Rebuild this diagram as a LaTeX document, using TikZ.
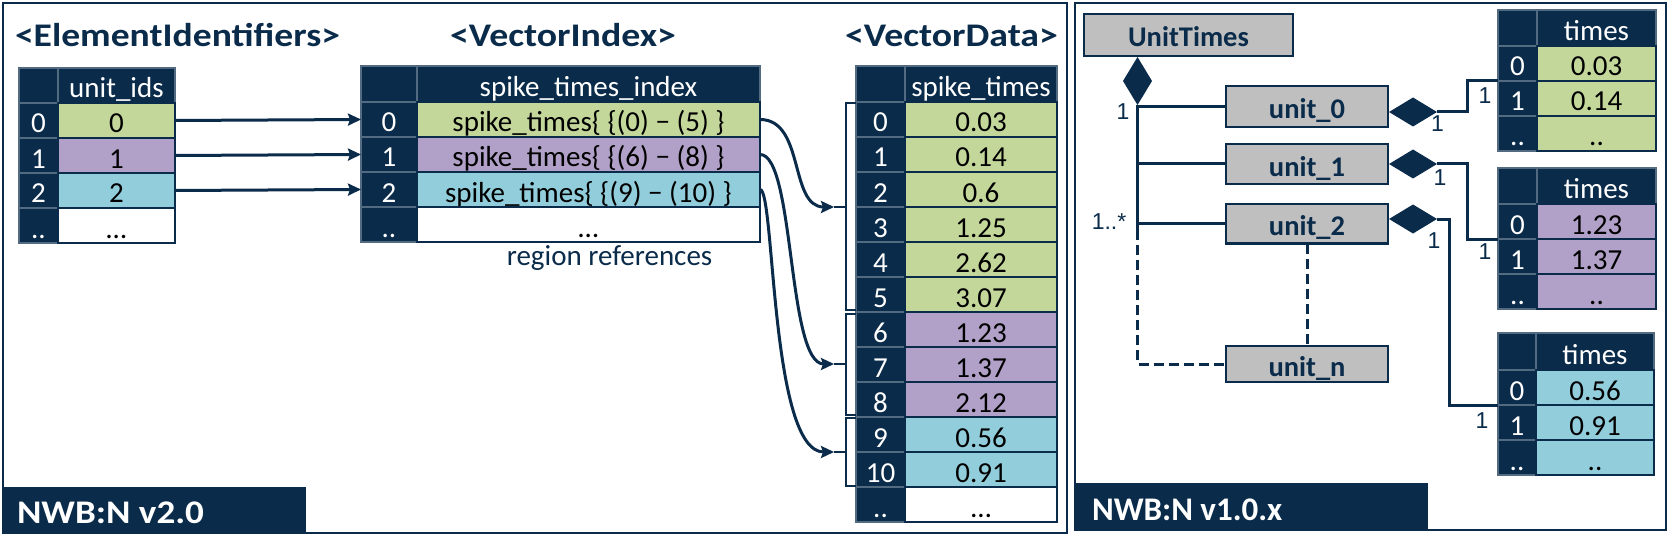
\documentclass[tikz,border=0pt]{standalone}
\usepackage{fontspec}
\setmainfont{Carlito}
\newfontfamily\arialf{Liberation Sans}
\usetikzlibrary{shapes.geometric,arrows.meta,calc}
\definecolor{navy}{HTML}{0A2B4A}
\definecolor{cgr}{HTML}{C4D79B}
\definecolor{cpu}{HTML}{B1A0C7}
\definecolor{cbl}{HTML}{92CDDC}
\definecolor{cgy}{HTML}{BFBFBF}
\tikzset{
  every node/.style={inner sep=0pt, outer sep=0pt},
  tcell/.style={rectangle, anchor=north west, text height=25pt, text depth=0pt,
    font=\fontsize{29}{34}\selectfont, minimum height=35pt, line width=1.6pt},
  icell/.style={tcell, fill=navy, draw=navy!70!white, text=white},
  vcell/.style={tcell, draw=navy, text=black},
  hcell/.style={tcell, fill=navy, draw=navy!70!white, text=white},
  ttl/.style={anchor=base, text=navy, font=\fontsize{33}{40}\selectfont\bfseries},
  lbltxt/.style={anchor=base west, text=white, font=\fontsize{33}{40}\selectfont\bfseries},
  lblbox/.style={fill=navy, anchor=south west},
  frame/.style={draw=navy, line width=2.8pt},
  ubox/.style={rectangle, anchor=north west, fill=cgy, draw=navy, line width=2.7pt,
    font=\fontsize{28.5}{34}\selectfont\bfseries, text=navy, text height=24pt, text depth=0pt},
  dia/.style={diamond, fill=navy, draw=none},
  conn/.style={draw=navy, line width=3pt},
  dsh/.style={dash pattern=on 10pt off 5pt},
  arr/.style={draw=navy, line width=3pt, -{Stealth[length=13pt,width=12pt,inset=2pt]}},
  brk/.style={draw=navy, line width=2.5pt},
  mult/.style={text=navy, font=\arialf\fontsize{23}{28}\selectfont},
}
\newcommand\mktable[8]{%
  \node[hcell, minimum width={#3-#2}, minimum height={#6}] (#1-hi) at (#2,#5) {};
  \node[hcell, minimum width={#4-#3}, minimum height={#6}] (#1-h) at (#3,#5) {#7};
  \foreach \ix/\vl/\cl [count=\n from 0] in {#8} {
    \node[icell, minimum width={#3-#2}] (#1-i\n) at (#2,{#5+#6+35*\n}) {\ix};
    \node[vcell, fill=\cl, minimum width={#4-#3}] (#1-v\n) at (#3,{#5+#6+35*\n}) {\vl};
  }%
}
\begin{document}
\begin{tikzpicture}[x=1pt,y=-1pt]
\useasboundingbox (0,0) rectangle (1669,540);
% frames
\draw[frame] (3,3) rectangle (1067,533);
\draw[frame] (1075,3) rectangle (1666,530);
\node[lblbox, minimum width=304pt, minimum height=46pt] (lb1) at (2,533) {};
\node[lbltxt] (lt1) at (17,523) {\resizebox{187pt}{\height}{NWB:N v2.0}};
\node[lblbox, minimum width=353pt, minimum height=47pt] (lb2) at (1075,530) {};
\node[lbltxt] (lt2) at (1092,520) {NWB:N v1.0.x};
% titles
\node[ttl] (t1) at (177.5,47) {\resizebox{325pt}{\height}{<ElementIdentifiers>}};
\node[ttl] (t2) at (563,47) {\resizebox{226pt}{\height}{<VectorIndex>}};
\node[ttl] (t3) at (951.5,47) {\resizebox{213pt}{\height}{<VectorData>}};
% left tables
\mktable{A}{19}{58}{175}{68}{35}{unit\_ids}{0/0/cgr, 1/1/cpu, 2/2/cbl, ../\dots/white}
\mktable{B}{361}{417}{760}{66}{36}{spike\_times\_index}{0/spike\_times\{ \{(0) − (5) \}/cgr, 1/spike\_times\{ \{(6) − (8) \}/cpu, 2/spike\_times\{ \{(9) − (10) \}/cbl, ../\dots/white}
\mktable{C}{856}{905}{1057}{66}{36}{spike\_times}{0/0.03/cgr, 1/0.14/cgr, 2/0.6/cgr, 3/1.25/cgr, 4/2.62/cgr, 5/3.07/cgr, 6/1.23/cpu, 7/1.37/cpu, 8/2.12/cpu, 9/0.56/cbl, 10/0.91/cbl, ../\dots/white}
\node[anchor=base, text=navy, font=\fontsize{29}{34}\selectfont] (rr) at (609.5,265) {region references};
% arrows ElementIdentifiers -> VectorIndex
\draw[arr] (A-v0.east) -- (B-i0.west);
\draw[arr] (A-v1.east) -- (B-i1.west);
\draw[arr] (A-v2.east) -- (B-i2.west);
% brackets
\coordinate (c1) at (834,207);
\coordinate (c2) at (834,364);
\coordinate (c3) at (834,452);
\draw[brk] (856,103) -- (846,103) -- (846,310) -- (856,310);
\draw[brk] (846,207) -- (c1);
\draw[brk] (856,314) -- (846,314) -- (846,415) -- (856,415);
\draw[brk] (846,364) -- (c2);
\draw[brk] (856,418) -- (846,418) -- (846,486) -- (856,486);
\draw[brk] (846,452) -- (c3);
% curves
\draw[arr] (B-v0.east) .. controls +(45,0) and +(-45,0) .. (c1);
\draw[arr] (B-v1.east) .. controls +(35,0) and +(-47,0) .. (c2);
\draw[arr] (B-v2.east) .. controls +(15,0) and +(-64,0) .. (c3);
% right panel
\mktable{TA}{1498}{1537}{1656}{10}{36}{times}{0/0.03/cgr, 1/0.14/cgr, ../../cgr}
\mktable{TB}{1498}{1537}{1656}{168}{36}{times}{0/1.23/cpu, 1/1.37/cpu, ../../cpu}
\mktable{TC}{1498}{1536}{1654}{333}{37}{times}{0/0.56/cbl, 1/0.91/cbl, ../../cbl}
\node[ubox, minimum width=209pt, minimum height=42pt] (UT) at (1084,14) {UnitTimes};
\node[ubox, minimum width=162pt, minimum height=41pt] (u0) at (1226,86) {unit\_0};
\node[ubox, minimum width=162pt, minimum height=40pt] (u1) at (1226,144) {unit\_1};
\node[ubox, minimum width=162pt, minimum height=39.5pt] (u2) at (1226,204) {unit\_2};
\node[ubox, minimum width=162pt, minimum height=36pt] (un) at (1226,346) {unit\_n};
\node[dia, minimum width=29pt, minimum height=48pt, anchor=north] (dUT) at (1137.5,57) {};
\node[dia, minimum width=48pt, minimum height=29pt, anchor=west] (d0) at (1389,112) {};
\node[dia, minimum width=48pt, minimum height=29pt, anchor=west] (d1) at (1389,164) {};
\node[dia, minimum width=48pt, minimum height=29pt, anchor=west] (d2) at (1389,219) {};
\draw[conn] (dUT.south) -- ++(0,125) coordinate (vs);
\draw[conn,dsh] (vs) |- (un.west);
\draw[conn] (u0.west) -- (u0.west -| dUT.south);
\draw[conn] (u1.west) -- (u1.west -| dUT.south);
\draw[conn] (u2.west) -- (u2.west -| dUT.south);
\draw[conn,dsh] (u2.south) -- (un.north);
\draw[conn] (d0.east) -- ++(30.7,0) |- (TA-i0.south west);
\draw[conn] (d1.east) -- ++(30.7,0) |- (TB-i0.south west);
\draw[conn] (d2.east) -- ++(12,0) |- (TC-i0.south west);
% multiplicities
\node[mult] (m1) at (1123,112) {1};
\node[mult] (m2) at (1109,222) {1..*};
\node[mult] (m3) at (1437.5,124) {1};
\node[mult] (m4) at (1485,95.5) {1};
\node[mult] (m5) at (1440,178) {1};
\node[mult] (m6) at (1485,252) {1};
\node[mult] (m7) at (1434,241) {1};
\node[mult] (m8) at (1482,421) {1};
\end{tikzpicture}
\end{document}
